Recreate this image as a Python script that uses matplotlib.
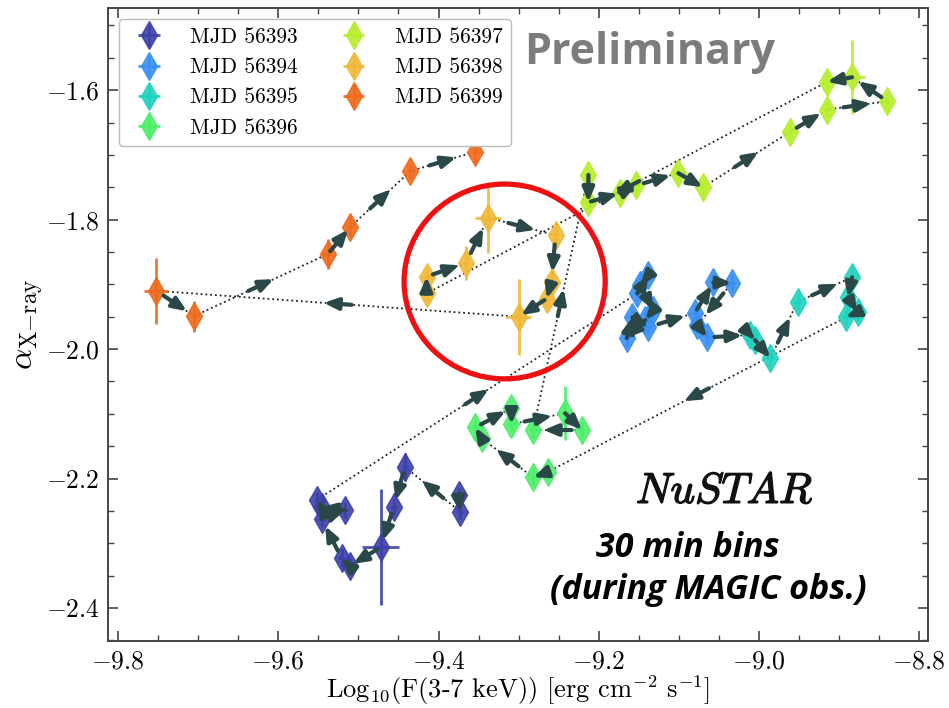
import numpy as np
import matplotlib
matplotlib.use("Agg")
import matplotlib.pyplot as plt
import matplotlib.patheffects as pe
from matplotlib.patches import Ellipse
from matplotlib.ticker import MultipleLocator

plt.rcParams["font.family"] = "serif"
plt.rcParams["font.serif"] = ["cmr10", "DejaVu Serif"]
plt.rcParams["mathtext.fontset"] = "cm"
plt.rcParams["axes.formatter.use_mathtext"] = True

# ---------------- DATA ----------------
labels = ["MJD 56393", "MJD 56394", "MJD 56395", "MJD 56396",
          "MJD 56397", "MJD 56398", "MJD 56399"]
colors = ["#3c40a8", "#3a8ff2", "#1fd2bf", "#4cef6a",
          "#b6ee2e", "#f0b836", "#ef6a1c"]

x_56393 = [-9.375, -9.373, -9.442, -9.456, -9.472, -9.511, -9.521, -9.546, -9.517, -9.546, -9.552]
y_56393 = [-2.226, -2.251, -2.182, -2.244, -2.306, -2.335, -2.323, -2.262, -2.249, -2.244, -2.233]
ye_56393 = [0.012, 0.012, 0.022, 0.012, 0.090, 0.012, 0.015, 0.012, 0.012, 0.012, 0.012]
xe_56393 = [0.004, 0.004, 0.004, 0.004, 0.023, 0.004, 0.004, 0.004, 0.004, 0.004, 0.004]

x_56394 = [-9.152, -9.138, -9.148, -9.132, -9.142, -9.165, -9.158, -9.138, -9.080, -9.057, -9.034, -9.077, -9.065]
y_56394 = [-1.914, -1.886, -1.901, -1.940, -1.955, -1.983, -1.951, -1.966, -1.944, -1.897, -1.898, -1.963, -1.982]
ye_56394 = [0.012] * 13
xe_56394 = [0.004] * 13

x_56395 = [-9.011, -9.005, -8.986, -8.952, -8.884, -8.889, -8.877, -8.892]
y_56395 = [-1.978, -1.986, -2.014, -1.927, -1.889, -1.920, -1.943, -1.951]
ye_56395 = [0.012] * 8
xe_56395 = [0.004] * 8

x_56396 = [-9.264, -9.282, -9.346, -9.354, -9.309, -9.309, -9.242, -9.221, -9.282]
y_56396 = [-2.190, -2.198, -2.138, -2.121, -2.091, -2.116, -2.099, -2.125, -2.125]
ye_56396 = [0.012, 0.012, 0.012, 0.012, 0.012, 0.012, 0.042, 0.012, 0.012]
xe_56396 = [0.004, 0.004, 0.004, 0.004, 0.004, 0.004, 0.010, 0.004, 0.004]

x_56397 = [-9.213, -9.213, -9.173, -9.153, -9.101, -9.070, -8.961, -8.915, -8.840, -8.884, -8.915]
y_56397 = [-1.731, -1.773, -1.759, -1.747, -1.728, -1.750, -1.664, -1.630, -1.617, -1.580, -1.587]
ye_56397 = [0.012, 0.012, 0.012, 0.012, 0.012, 0.012, 0.012, 0.012, 0.012, 0.057, 0.012]
xe_56397 = [0.004, 0.004, 0.004, 0.004, 0.004, 0.004, 0.004, 0.004, 0.004, 0.016, 0.004]

x_56398 = [-9.415, -9.415, -9.366, -9.338, -9.254, -9.259, -9.265, -9.300]
y_56398 = [-1.914, -1.888, -1.867, -1.797, -1.824, -1.896, -1.922, -1.950]
ye_56398 = [0.012, 0.012, 0.026, 0.054, 0.012, 0.012, 0.012, 0.059]
xe_56398 = [0.004, 0.004, 0.004, 0.016, 0.004, 0.004, 0.004, 0.016]

x_56399 = [-9.752, -9.705, -9.538, -9.510, -9.435, -9.354]
y_56399 = [-1.910, -1.949, -1.853, -1.811, -1.725, -1.695]
ye_56399 = [0.051, 0.024, 0.023, 0.015, 0.012, 0.018]
xe_56399 = [0.015, 0.004, 0.004, 0.004, 0.004, 0.004]

days_x = [x_56393, x_56394, x_56395, x_56396, x_56397, x_56398, x_56399]
days_y = [y_56393, y_56394, y_56395, y_56396, y_56397, y_56398, y_56399]
days_ye = [ye_56393, ye_56394, ye_56395, ye_56396, ye_56397, ye_56398, ye_56399]
days_xe = [xe_56393, xe_56394, xe_56395, xe_56396, xe_56397, xe_56398, xe_56399]
# --------------------------------------------------------------

ARROW_COLOR = "#2a4848"
ARROW_PX = 28

fig = plt.figure(figsize=(9.49, 7.08), dpi=100)
ax = fig.add_axes([0.1138, 0.0946, 0.8642, 0.8941])
ax.set_xlim(-9.8125, -8.789)
ax.set_ylim(-2.451, -1.473)

# error bars + diamonds
for xs, ys, yes, xes, c, lab in zip(days_x, days_y, days_ye, days_xe, colors, labels):
    ax.errorbar(xs, ys, yerr=yes, xerr=xes, fmt="d", color=c, ms=14,
                elinewidth=2, capsize=0, alpha=0.9, label=lab, zorder=3)

# dotted chronological path
all_x = np.concatenate([np.array(v) for v in days_x])
all_y = np.concatenate([np.array(v) for v in days_y])
ax.plot(all_x, all_y, ls=":", color="#222222", lw=1.3, zorder=2)

# arrows at segment midpoints, fixed pixel length
to_px = ax.transData
to_data = ax.transData.inverted()
pts = to_px.transform(np.column_stack([all_x, all_y]))
for p0, p1 in zip(pts[:-1], pts[1:]):
    d = p1 - p0
    L = np.hypot(*d)
    if L < 1e-6:
        continue
    u = d / L
    a = min(ARROW_PX, L)
    mid = (p0 + p1) / 2
    s = to_data.transform(mid - u * a / 2)
    e = to_data.transform(mid + u * a / 2)
    ax.annotate("", xy=e, xytext=s,
                arrowprops=dict(arrowstyle="-|>,head_length=0.6,head_width=0.25",
                                color=ARROW_COLOR, lw=3, shrinkA=0, shrinkB=0,
                                mutation_scale=14),
                zorder=4)

# highlight circle
ax.add_patch(Ellipse((-9.3175, -1.8955), 0.251, 0.301, fill=False,
                     ec="#ee1111", lw=3.8, zorder=5))

# texts
ax.text(0.661, 0.930, "Preliminary", transform=ax.transAxes, ha="center", va="center",
        family="Open Sans", weight="bold", fontsize=31, color="#7c7c7c")
ax.text(0.752, 0.235, r"$NuSTAR$", transform=ax.transAxes, ha="center", va="center",
        fontsize=31, color="#111111",
        path_effects=[pe.withStroke(linewidth=1.0, foreground="#111111")])
ax.text(0.707, 0.147, "30 min bins", transform=ax.transAxes, ha="center", va="center",
        family="Open Sans", weight="bold", style="italic", fontsize=24.5, color="black")
ax.text(0.732, 0.081, "(during MAGIC obs.)", transform=ax.transAxes, ha="center", va="center",
        family="Open Sans", weight="bold", style="italic", fontsize=24.5, color="black")

# axes style
ax.xaxis.set_major_locator(MultipleLocator(0.2))
ax.xaxis.set_minor_locator(MultipleLocator(0.05))
ax.yaxis.set_major_locator(MultipleLocator(0.2))
ax.yaxis.set_minor_locator(MultipleLocator(0.05))
ax.tick_params(which="both", direction="in", top=True, right=True, labelsize=18.5,
               color="#444444")
ax.tick_params(which="major", length=7, width=1.2, pad=6)
ax.tick_params(which="minor", length=4, width=1.0)
for sp in ax.spines.values():
    sp.set_color("#444444")
    sp.set_linewidth(1.4)

ax.set_xlabel(r"Log$_{10}$(F(3-7 keV)) [erg cm$^{-2}$ s$^{-1}$]", fontsize=19, labelpad=0)
ax.set_ylabel(r"$\alpha_{\mathrm{X{-}ray}}$", fontsize=24, labelpad=0)

ax.legend(loc="upper left", ncol=2, fontsize=15.5, frameon=True, fancybox=True,
          edgecolor="#bbbbbb", framealpha=1, handletextpad=0.9, columnspacing=1.6,
          borderaxespad=0.5, labelspacing=0.5, borderpad=0.4)

fig.savefig("out.png", dpi=100)
